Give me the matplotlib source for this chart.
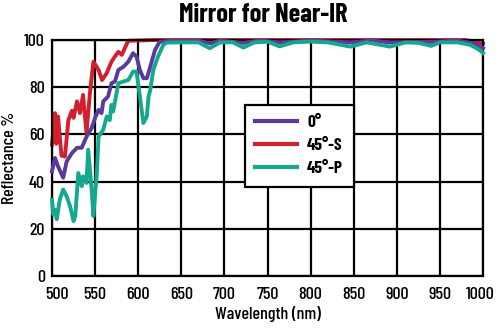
import matplotlib
matplotlib.use("Agg")
import matplotlib.pyplot as plt
from matplotlib.transforms import ScaledTranslation

plt.rcParams["font.family"] = ["Barlow Condensed", "DejaVu Sans"]

# reflectance curves (wavelength nm, reflectance %)
wl_0 = [500, 503.5, 507, 513, 517, 523, 529, 534.5, 540, 546, 550, 554, 557.5,
        559.5, 565, 569, 573, 577, 583, 588.5, 594, 598, 602, 606, 610, 614,
        619.5, 625, 640, 670, 683, 695, 722, 740, 764, 800, 846, 870, 892, 940,
        970, 990, 1000]
r_0 = [44.3, 50, 46.4, 41.6, 48.5, 52, 54.3, 54.3, 59, 62.7, 67, 70.4, 69,
       74, 76, 81.7, 82.4, 87.3, 88.7, 90.8, 94.4, 93, 87.3, 83.8, 83.8, 88.7,
       95.8, 99.3, 99.7, 99.7, 98.6, 99.7, 98.8, 99.8, 99, 99.8, 99, 99.8, 99,
       99.2, 99.8, 98.5, 96.5]

wl_45s = [500, 503.5, 505, 507, 511, 515, 519, 523, 525, 529, 532.5, 536, 540,
          544, 548, 554, 558, 563.5, 569, 573, 577, 581, 585, 588.5, 620, 700,
          800, 900, 980, 1000]
r_45s = [55.6, 69, 56, 67.6, 51, 50.6, 66, 70, 67, 74, 69, 76.7, 60.7, 77.6,
         90.8, 87.3, 83, 86, 90.8, 93, 95, 93.7, 97, 99.7, 100, 100, 100, 100,
         100, 98.5]

wl_45p = [500, 501.5, 503.5, 505.5, 509, 513, 517, 521, 525, 527, 530.5,
          534.5, 536, 540, 542, 546, 548, 552, 554, 559.5, 563.5, 567, 569, 571,
          577, 583, 588.5, 594, 598, 602, 606, 610, 612, 614, 617.5, 623, 629,
          633, 650, 670, 683, 695, 710, 722, 735, 750, 764, 780, 800, 820, 846,
          865, 892, 910, 925, 940, 950, 970, 985, 995, 1000]
r_45p = [32.3, 26, 28, 24, 32.3, 36.6, 33.7, 29.5, 23.2, 25.3, 43.6, 38, 42.2,
         39.4, 53.5, 36.6, 25.3, 43.6, 59, 62, 67.6, 66, 72.5, 69.7, 81.7,
         82.4, 83, 86.6, 86.6, 76, 64.8, 67.6, 76, 78.8, 87.3, 93, 97.9, 98.9,
         99, 99, 96.5, 99, 99, 96.8, 99, 99.3, 97.3, 99, 99.3, 99, 97.2, 99,
         97.2, 99, 98.8, 97.5, 99, 99, 98, 96, 94.5]

x_ticks = [500, 550, 600, 650, 700, 750, 800, 850, 900, 950, 1000]
y_ticks = [0, 20, 40, 60, 80, 100]

fig = plt.figure(figsize=(5, 3.28), dpi=100)
ax = fig.add_axes([0.104, 0.159, 0.862, 0.719])

lw = 2.8
ax.plot(wl_0, r_0, color="#5B3A9E", lw=lw, label="0°", zorder=3, clip_on=False)
ax.plot(wl_45s, r_45s, color="#D4202E", lw=lw, label="45°-S", zorder=2, clip_on=False)
ax.plot(wl_45p, r_45p, color="#16A88E", lw=lw, label="45°-P", zorder=4, clip_on=False)

ax.set_xlim(500, 1000)
ax.set_ylim(0, 100)
ax.set_xticks(x_ticks)
ax.set_yticks(y_ticks)
ax.tick_params(length=0, labelsize=13)
ax.tick_params(axis="x", pad=8)
ax.tick_params(axis="y", pad=5)
for lab in ax.get_xticklabels() + ax.get_yticklabels():
    lab.set_fontweight("medium")

# nudge the end labels inward
xl = ax.get_xticklabels()
xl[0].set_transform(xl[0].get_transform() + ScaledTranslation(5 / 100, 0, fig.dpi_scale_trans))
xl[-1].set_transform(xl[-1].get_transform() + ScaledTranslation(-3 / 100, 0, fig.dpi_scale_trans))

ax.grid(True, color="black", lw=1.6)
ax.set_axisbelow(True)
for s in ax.spines.values():
    s.set_color("black")
    s.set_linewidth(1.6)

ax.set_xlabel("Wavelength (nm)", fontsize=13, fontweight="medium", labelpad=3)
ax.set_ylabel("Reflectance %", fontsize=13, fontweight="medium", labelpad=5)
fig.text(0.527, 0.954, "Mirror for Near-IR", ha="center", va="center",
         fontsize=19, fontweight="bold")

leg = ax.legend(loc="upper left", bbox_to_anchor=(0.427, 0.763),
                frameon=True, fancybox=False, framealpha=1,
                edgecolor="black", handlelength=2.4, handletextpad=0.6,
                borderpad=0.6, labelspacing=0.45,
                prop={"size": 12.5, "weight": "bold"})
leg.get_frame().set_linewidth(1.6)
for h in leg.get_lines():
    h.set_linewidth(3)
leg.set_zorder(10)

fig.savefig("out.png", dpi=100)
